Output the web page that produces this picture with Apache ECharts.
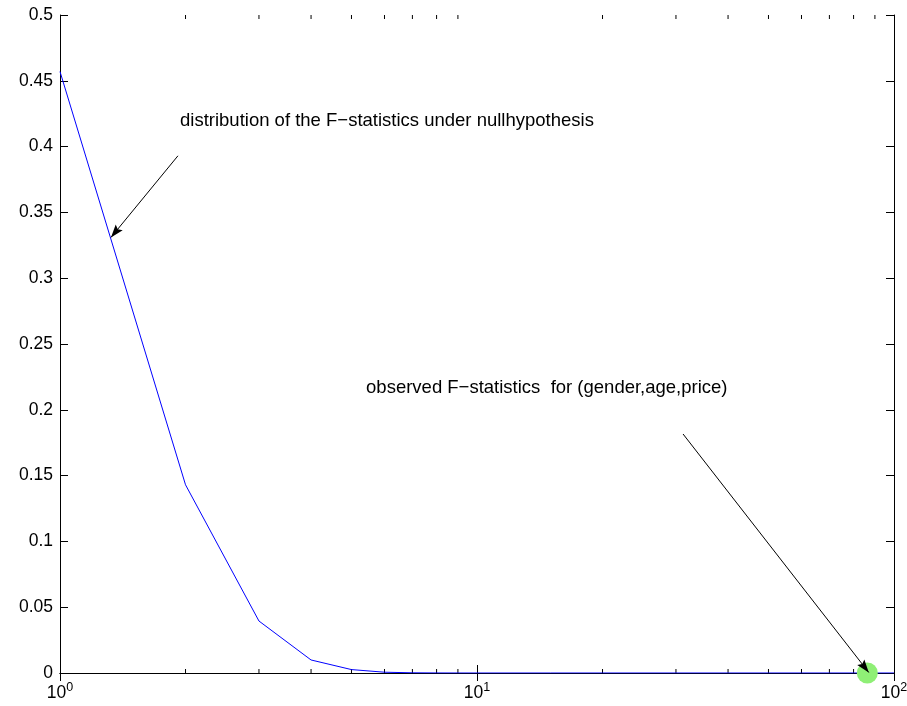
<!DOCTYPE html>
<html>
<head>
<meta charset="utf-8">
<script src="https://cdn.jsdelivr.net/npm/echarts@6/dist/echarts.min.js"></script>
<style>
  html, body { margin: 0; padding: 0; background: #fff; }
  #chart { width: 907px; height: 706px; }
</style>
</head>
<body>
<div id="chart"></div>
<script>
// F statistic values (log axis) and the density under the null hypothesis
const fValues  = [1, 2, 3, 4, 5, 6, 7, 8, 9, 10, 12, 15, 20, 30, 40, 50, 60, 70, 80, 90, 100];
const fDensity = [0.457, 0.143, 0.0395, 0.0099, 0.0026, 0.0006, 0.00015, 0.00004, 0.00001, 0, 0, 0, 0, 0, 0, 0, 0, 0, 0, 0, 0];

// observed statistic for (gender, age, price)
const observedPoint = [86.3, 0];

// annotation texts with their anchor points (data coordinates)
const noteTexts  = ['distribution of the F\u2212statistics under nullhypothesis',
                    'observed F\u2212statistics  for (gender,age,price)'];
const noteAnchor = [[1.94, 0.4195], [5.42, 0.2166]];

// arrows: [from, to] in data coordinates
const arrows = [
  [[1.918, 0.393], [1.325, 0.331]],
  [[31.2, 0.1816], [87.0, 0.0004]]
];

// axis ranges and ticks
const xMin = 1, xMax = 100;
const yMin = 0, yMax = 0.5, yStep = 0.05;
const minorTicks = [2, 3, 4, 5, 6, 7, 8, 9, 20, 30, 40, 50, 60, 70, 80, 90];

const FONT = '"Liberation Sans", Arial, Helvetica, sans-serif';
const ARROW_HEAD = 'path://M5,0 L10,14 L5,11.5 L0,14 Z';
const HEAD_SIZE = [9, 13];

const chart = echarts.init(document.getElementById('chart'), null, { renderer: 'canvas' });

const axisLine = { show: true, lineStyle: { color: '#000', width: 1 } };

const option = {
  animation: false,
  backgroundColor: '#fff',
  grid: { left: 60, right: 13, top: 15, bottom: 33, outerBoundsMode: 'none', containLabel: false },
  xAxis: [
    {
      type: 'log', logBase: 10, min: xMin, max: xMax, position: 'bottom',
      axisLine,
      axisTick: { show: true, inside: true, length: 8, lineStyle: { color: '#000' } },
      splitLine: { show: false },
      axisLabel: {
        margin: 8,
        formatter: v => '{b|10}{s|' + Math.round(Math.log10(v)) + '}',
        rich: {
          b: { fontFamily: FONT, fontSize: 17.5, color: '#000' },
          s: { fontFamily: FONT, fontSize: 12.5, color: '#000', padding: [0, 0, 12, 0] }
        }
      }
    },
    {
      type: 'log', logBase: 10, min: xMin, max: xMax, position: 'top',
      axisLine,
      axisTick: { show: true, inside: true, length: 8, lineStyle: { color: '#000' } },
      axisLabel: { show: false },
      splitLine: { show: false }
    }
  ],
  yAxis: [
    {
      type: 'value', min: yMin, max: yMax, interval: yStep, position: 'left',
      axisLine,
      axisTick: { show: true, inside: true, length: 8, lineStyle: { color: '#000' } },
      splitLine: { show: false },
      axisLabel: {
        margin: 7, fontFamily: FONT, fontSize: 17.5, color: '#000',
        formatter: v => String(+v.toFixed(2))
      }
    },
    {
      type: 'value', min: yMin, max: yMax, interval: yStep, position: 'right',
      axisLine,
      axisTick: { show: true, inside: true, length: 8, lineStyle: { color: '#000' } },
      axisLabel: { show: false },
      splitLine: { show: false }
    }
  ],
  series: [
    {
      // minor ticks of the log axis, bottom and top
      type: 'custom',
      xAxisIndex: 0, yAxisIndex: 0,
      silent: true, z: 1,
      data: minorTicks.map(v => [v, yMin]),
      renderItem: (params, api) => {
        const bottom = api.coord([api.value(0), yMin]);
        const top = api.coord([api.value(0), yMax]);
        const style = { stroke: '#000', lineWidth: 1 };
        return {
          type: 'group',
          children: [
            { type: 'line', shape: { x1: bottom[0], y1: bottom[1], x2: bottom[0], y2: bottom[1] - 4 }, style },
            { type: 'line', shape: { x1: top[0], y1: top[1], x2: top[0], y2: top[1] + 4 }, style }
          ]
        };
      }
    },
    {
      type: 'line',
      xAxisIndex: 0, yAxisIndex: 0,
      data: fValues.map((x, i) => [x, fDensity[i]]),
      showSymbol: false, symbol: 'none',
      lineStyle: { color: '#0000ff', width: 1 },
      z: 2
    },
    {
      type: 'scatter',
      xAxisIndex: 0, yAxisIndex: 0,
      data: [observedPoint],
      symbol: 'circle', symbolSize: 21,
      itemStyle: { color: '#8fef76', opacity: 1 },
      clip: false,
      z: 3
    },
    {
      // annotation texts and arrows
      type: 'scatter',
      xAxisIndex: 0, yAxisIndex: 0,
      data: noteAnchor.map((p, i) => ({ value: p, name: noteTexts[i] })),
      symbolSize: 0,
      clip: false,
      label: {
        show: true, position: 'right', distance: 0,
        formatter: p => p.name,
        fontFamily: FONT, fontSize: 18.5, color: '#000', opacity: 1
      },
      markLine: {
        silent: true,
        symbol: ['none', ARROW_HEAD],
        symbolSize: HEAD_SIZE,
        symbolOffset: [[0, 0], [0, HEAD_SIZE[1] / 2]],
        label: { show: false },
        lineStyle: { color: '#000', width: 1, type: 'solid', opacity: 1 },
        itemStyle: { color: '#000' },
        data: arrows.map(a => [{ coord: a[0] }, { coord: a[1] }])
      },
      z: 5
    }
  ]
};

chart.setOption(option);
</script>
</body>
</html>
